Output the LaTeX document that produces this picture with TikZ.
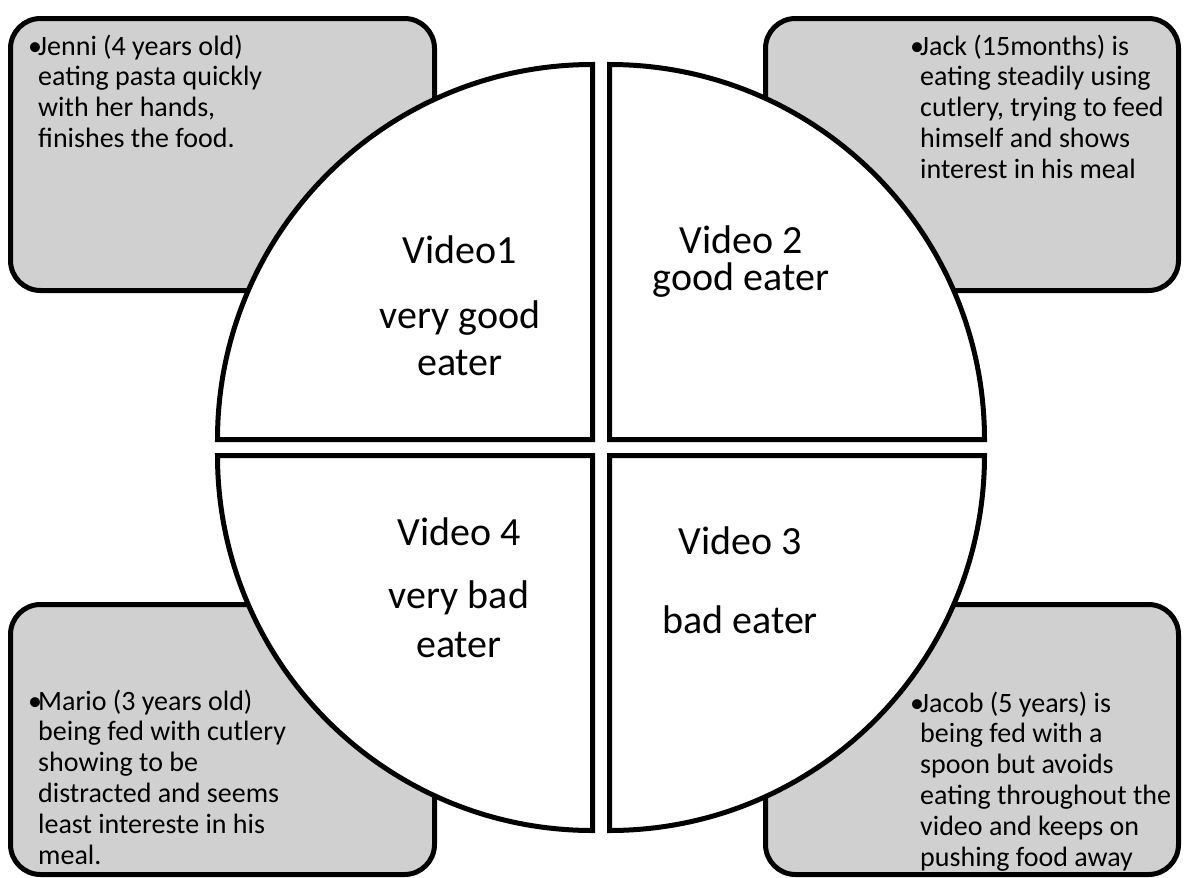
\documentclass[tikz,border=0pt]{standalone}
\usepackage{fontspec}
\setmainfont{Carlito}
\definecolor{boxgray}{RGB}{208,208,208}
\tikzset{
  infobox/.style={draw=black, line width=5pt, fill=boxgray, rounded corners=30pt},
  quad/.style={draw=black, line width=5pt, fill=white, line join=miter},
  bigtext/.style={font=\fontsize{40}{46}\selectfont, inner sep=0pt, anchor=base},
  smalltext/.style={font=\fontsize{28}{30.8}\selectfont, inner sep=0pt, anchor=base west}
}
\newcommand{\bul}{\makebox[10pt][l]{•}}
\begin{document}
\begin{tikzpicture}[x=1pt,y=-1pt]
\useasboundingbox (0,0) rectangle (1184,878);
% boxes
\draw[infobox] (10.5,18.5) rectangle (434.5,290.5);
\draw[infobox] (765.5,18.5) rectangle (1178.5,290.5);
\draw[infobox] (10.5,604.5) rectangle (434.5,874.5);
\draw[infobox] (765.5,604.5) rectangle (1178.5,874.5);
% quadrants
\coordinate (ctl) at (592.5,439.5);
\coordinate (ctr) at (609.5,439.5);
\coordinate (cbl) at (592.5,455.5);
\coordinate (cbr) at (609.5,455.5);
\draw[quad] (ctl) -- ++(0,-375) arc[start angle=90, end angle=180, radius=375pt] -- cycle;
\draw[quad] (ctr) -- ++(0,-375) arc[start angle=90, end angle=0, radius=375pt] -- cycle;
\draw[quad] (cbl) -- ++(0,375) arc[start angle=270, end angle=180, radius=375pt] -- cycle;
\draw[quad] (cbr) -- ++(0,375) arc[start angle=270, end angle=360, radius=375pt] -- cycle;
% box texts
\node[smalltext] (t1) at (28,55) {\begin{tabular}[t]{@{}l@{}l@{}}\bul & Jenni (4 years old)\\ & eating pasta quickly\\ & with her hands,\\ & finishes the food.\end{tabular}};
\node[smalltext] (t2) at (910,55) {\begin{tabular}[t]{@{}l@{}l@{}}\bul & Jack (15months) is\\ & eating steadily using\\ & cutlery, trying to feed\\ & himself and shows\\ & interest in his meal\end{tabular}};
\node[smalltext] (t4) at (28,710) {\begin{tabular}[t]{@{}l@{}l@{}}\bul & Mario (3 years old)\\ & being fed with cutlery\\ & showing to be\\ & distracted and seems\\ & least intereste in his\\ & meal.\end{tabular}};
\node[smalltext] (t3) at (910,712) {\begin{tabular}[t]{@{}l@{}l@{}}\bul & Jacob (5 years) is\\ & being fed with a\\ & spoon but avoids\\ & eating throughout the\\ & video and keeps on\\ & pushing food away\end{tabular}};
% center texts
\node[bigtext] (v1a) at (460,263) {Video1};
\node[bigtext] (v1b) at (460,328) {very good};
\node[bigtext] (v1c) at (460,375) {eater};
\node[bigtext] (v2a) at (741,253) {Video 2};
\node[bigtext] (v2b) at (741,290) {good eater};
\node[bigtext] (v4a) at (459,545) {Video 4};
\node[bigtext] (v4b) at (459,608) {very bad};
\node[bigtext] (v4c) at (459,657) {eater};
\node[bigtext] (v3a) at (740,554) {Video 3};
\node[bigtext] (v3b) at (740,633) {bad eater};
\end{tikzpicture}
\end{document}
